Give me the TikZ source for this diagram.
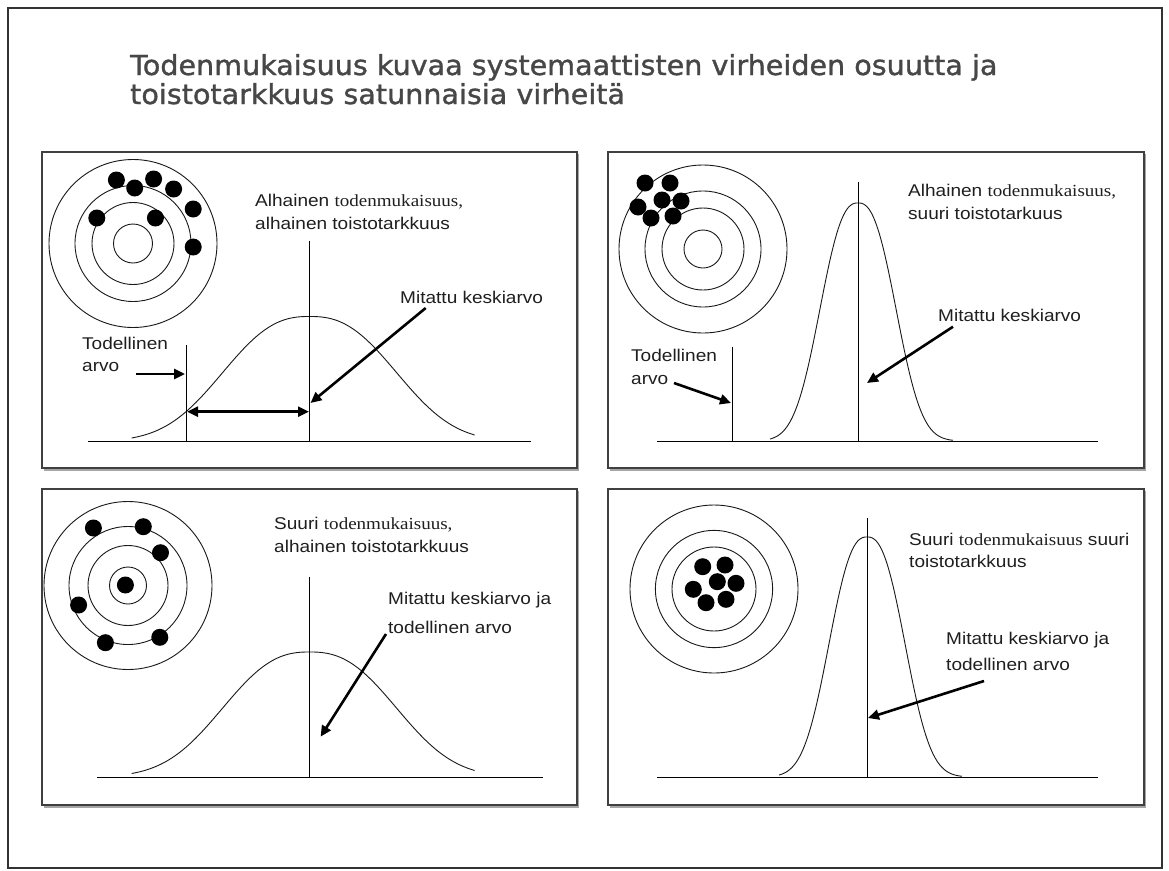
\documentclass[tikz,border=0pt]{standalone}
\usepackage{fontspec}
\setmainfont{Liberation Sans}
\newfontfamily\labfont[FakeStretch=1.12]{Liberation Sans}
\newfontfamily\labserif[FakeStretch=1.12]{Liberation Serif}
\newfontfamily\ttlfont[FakeStretch=1.04,FakeBold=1.2]{DejaVu Sans}
\usetikzlibrary{arrows.meta}
\begin{document}
\begin{tikzpicture}[x=1pt,y=-1pt,
  frame/.style={draw=black!80, line width=1.4pt},
  panel/.style={draw=black!75, line width=1.3pt, fill=white},
  shadowbox/.style={fill=black!35, draw=none},
  thinline/.style={draw=black, line width=1pt},
  ring/.style={draw=black!90, line width=0.9pt},
  dot/.style={fill=black, draw=none},
  curve/.style={draw=black!90, line width=0.9pt},
  arr/.style={draw=black, line width=2.6pt, -{Triangle[length=11pt,width=10pt]}},
  darr/.style={draw=black, line width=2.6pt, {Triangle[length=11pt,width=10pt]}-{Triangle[length=11pt,width=10pt]}},
  lbl/.style={anchor=base west, inner sep=0pt, font=\labfont\fontsize{17}{20}\selectfont, text=black!88},
  ttl/.style={anchor=base west, inner sep=0pt, font=\ttlfont\fontsize{27.5}{30}\selectfont, text=black!72}
]
\useasboundingbox (0,0) rectangle (1169,870);
\fill[white] (0,0) rectangle (1169,870);
% outer frame
\draw[frame] (8,8) rectangle (1162,868);

% title
\node[ttl] (title1) at (130,75) {Todenmukaisuus kuvaa systemaattisten virheiden osuutta ja};
\node[ttl] (title2) at (130,104) {toistotarkkuus satunnaisia virheitä};

% panels with shadows
\fill[shadowbox] (44,154) rectangle (579,471);
\draw[panel] (42,152) rectangle (577,468);
\fill[shadowbox] (610,154) rectangle (1146,471);
\draw[panel] (608,152) rectangle (1144,468);
\fill[shadowbox] (44,491) rectangle (579,808);
\draw[panel] (42,489) rectangle (577,805);
\fill[shadowbox] (610,491) rectangle (1146,808);
\draw[panel] (608,489) rectangle (1144,805);

% ================= Top-left =================
\foreach \r in {84,58,41,19.5} \draw[ring] (133,243.5) circle (\r);
\foreach \p in {(116.4,180),(134.7,188),(153.6,179),(173.6,189),(193.2,209),(96.8,218),(155.4,218),(193.2,247)}
  \fill[dot] \p circle (8.5);
\draw[thinline] (88,441.5) -- (531,441.5);
\draw[curve] plot[domain=-178:165, samples=140, smooth] ({309.6+\x}, {441.5-125*exp(-1*pow(abs(\x)/107,2.5))});
\coordinate (tlMeanTop) at (309.6,240.7);
\coordinate (tlMeanBot) at (309.6,441.5);
\draw[thinline] (tlMeanTop) -- (tlMeanBot);
\coordinate (tlTrueTop) at (186.3,345);
\coordinate (tlTrueBot) at (186.3,441.5);
\draw[thinline] (tlTrueTop) -- (tlTrueBot);
\node[lbl] (tlHead1) at (255,206) {Alhainen {\labserif todenmukaisuus,}};
\node[lbl] (tlHead2) at (255,229) {alhainen toistotarkkuus};
\node[lbl] (tlMean) at (400,303) {Mitattu keskiarvo};
\node[lbl] (tlTrue1) at (82,349) {Todellinen};
\node[lbl] (tlTrue2) at (82,371) {arvo};
\coordinate (tlA1s) at (136.4,374);
\coordinate (tlA1e) at (185,374);
\draw[arr] (tlA1s) -- (tlA1e);
\coordinate (tlDs) at (187,411.7);
\coordinate (tlDe) at (309,411.7);
\draw[darr] (tlDs) -- (tlDe);
\coordinate (tlA2s) at (425.7,308);
\coordinate (tlA2e) at (310.5,403);
\draw[arr] (tlA2s) -- (tlA2e);

% ================= Top-right =================
\foreach \r in {84,58,41,19} \draw[ring] (703,249) circle (\r);
\foreach \p in {(645,183),(670,183),(662,200),(681,201),(638,207),(651,218),(673,216)}
  \fill[dot] \p circle (8.5);
\draw[thinline] (657,441) -- (1098,441);
\draw[curve] plot[domain=-88:95, samples=140, smooth] ({858+\x}, {441-238*exp(-1*pow(abs(\x)/47,2.5))});
\coordinate (trMeanTop) at (858,181.7);
\coordinate (trMeanBot) at (858,441);
\draw[thinline] (trMeanTop) -- (trMeanBot);
\coordinate (trTrueTop) at (732,346.7);
\coordinate (trTrueBot) at (732,441);
\draw[thinline] (trTrueTop) -- (trTrueBot);
\node[lbl] (trHead1) at (908,196) {Alhainen {\labserif todenmukaisuus,}};
\node[lbl] (trHead2) at (908,219) {suuri toistotarkuus};
\node[lbl] (trMean) at (938,321) {Mitattu keskiarvo};
\node[lbl] (trTrue1) at (631,361) {Todellinen};
\node[lbl] (trTrue2) at (631,384) {arvo};
\coordinate (trA1s) at (674,383);
\coordinate (trA1e) at (731,403);
\draw[arr] (trA1s) -- (trA1e);
\coordinate (trA2s) at (953,326.7);
\coordinate (trA2e) at (867,383);
\draw[arr] (trA2s) -- (trA2e);

% ================= Bottom-left =================
\foreach \r in {84,59,40,18.5} \draw[ring] (128,585.5) circle (\r);
\foreach \p in {(93.4,528),(143.3,526.7),(160.5,552.7),(125.4,585),(78.6,605),(105.4,642.7),(159.8,637.3)}
  \fill[dot] \p circle (8.5);
\draw[thinline] (97,777) -- (543,777);
\draw[curve] plot[domain=-178:165, samples=140, smooth] ({309.6+\x}, {777-125*exp(-1*pow(abs(\x)/107,2.5))});
\coordinate (blMeanTop) at (309.6,576.7);
\coordinate (blMeanBot) at (309.6,777);
\draw[thinline] (blMeanTop) -- (blMeanBot);
\node[lbl] (blHead1) at (274,529) {Suuri {\labserif todenmukaisuus,}};
\node[lbl] (blHead2) at (274,552) {alhainen toistotarkkuus};
\node[lbl] (blMean1) at (388,604) {Mitattu keskiarvo ja};
\node[lbl] (blMean2) at (388,633) {todellinen arvo};
\coordinate (blAs) at (386,634);
\coordinate (blAe) at (320.6,736.7);
\draw[arr] (blAs) -- (blAe);

% ================= Bottom-right =================
\foreach \r in {84,58.6,42} \draw[ring] (714,589) circle (\r);
\foreach \p in {(702.7,566.7),(725,565),(717.3,581.7),(736,583.3),(693.3,589.3),(706,602.7),(726,599.3)}
  \fill[dot] \p circle (8.5);
\draw[thinline] (657,777) -- (1098,777);
\draw[curve] plot[domain=-88:95, samples=140, smooth] ({867+\x}, {777-240*exp(-1*pow(abs(\x)/47,2.5))});
\coordinate (brMeanTop) at (867,518);
\coordinate (brMeanBot) at (867,777);
\draw[thinline] (brMeanTop) -- (brMeanBot);
\node[lbl] (brHead1) at (909,545) {Suuri {\labserif todenmukaisuus} suuri};
\node[lbl] (brHead2) at (909,567) {toistotarkkuus};
\node[lbl] (brMean1) at (946,644) {Mitattu keskiarvo ja};
\node[lbl] (brMean2) at (946,670) {todellinen arvo};
\coordinate (brAs) at (984,681);
\coordinate (brAe) at (868,718);
\draw[arr] (brAs) -- (brAe);
\end{tikzpicture}
\end{document}
